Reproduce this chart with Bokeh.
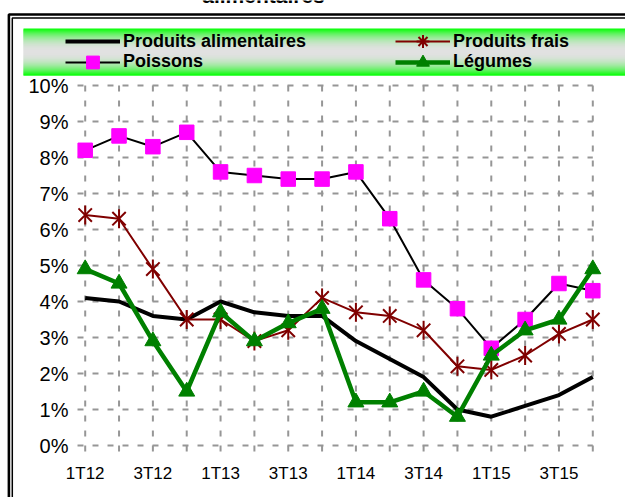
import numpy as np
from bokeh.plotting import figure
from bokeh.models import Range1d, BoxAnnotation, Legend, LegendItem
from bokeh.core.properties import value
from bokeh.embed import file_html
from bokeh.resources import INLINE

# ---------------- data ----------------
title_tail = "alimentaires"
quarters = ["1T12", "2T12", "3T12", "4T12", "1T13", "2T13", "3T13", "4T13",
            "1T14", "2T14", "3T14", "4T14", "1T15", "2T15", "3T15", "4T15"]
produits_alimentaires = [4.1, 4.0, 3.6, 3.5, 4.0, 3.7, 3.6, 3.6, 2.9, 2.4, 1.9, 1.0, 0.8, 1.1, 1.4, 1.9]
produits_frais = [6.4, 6.3, 4.9, 3.5, 3.5, 2.9, 3.2, 4.1, 3.7, 3.6, 3.2, 2.2, 2.1, 2.5, 3.1, 3.5]
poissons = [8.2, 8.6, 8.3, 8.7, 7.6, 7.5, 7.4, 7.4, 7.6, 6.3, 4.6, 3.8, 2.7, 3.5, 4.5, 4.3]
legumes = [4.9, 4.5, 2.9, 1.5, 3.7, 2.9, 3.4, 3.8, 1.2, 1.2, 1.5, 0.8, 2.5, 3.2, 3.5, 4.9]
y_ticks = list(range(0, 11))
y_tick_labels = [f"{v}%" for v in y_ticks]
x_tick_positions = list(range(0, len(quarters), 2))
x_tick_labels = [quarters[i] for i in x_tick_positions]

x = list(range(len(quarters)))

# ---------------- geometry (pixel <-> data) ----------------
W, H = 625, 497
X0_PX, X_STEP = 84.7, 33.84      # pixel of first category, pixels per category
Y0_PX, Y_STEP = 445.0, 36.0      # pixel of 0 %, pixels per 1 %

def dx(px):
    return (px - X0_PX) / X_STEP

def dy(py):
    return (Y0_PX - py) / Y_STEP

p = figure(width=W, height=H, output_backend="svg", toolbar_location=None,
           x_range=Range1d(dx(0), dx(W)), y_range=Range1d(dy(H), dy(0)),
           x_axis_location=None, y_axis_location=None,
           min_border=0, min_border_left=0, min_border_right=0,
           min_border_top=0, min_border_bottom=0)
p.outline_line_color = None
p.background_fill_color = "white"
p.border_fill_color = "white"
p.xgrid.grid_line_color = None
p.ygrid.grid_line_color = None

FONT = "Liberation Sans"

# ---------------- title remnant (cut by the top edge) ----------------
p.text(x=[dx(263)], y=[dy(-5)], text=[title_tail], text_align="center",
       text_baseline="alphabetic", text_font=value(FONT), text_font_style="bold",
       text_font_size="21px", text_color="black")

# ---------------- legend band (gradient) ----------------
band_top, band_bot = 28, 75
n = band_bot - band_top
g_edge = np.array([0, 255, 0], dtype=float)
g_mid = np.array([225, 225, 225], dtype=float)
for i in range(n):
    d = abs((i + 0.5) - n / 2) / (n / 2)
    t = d ** 2.2
    c = g_edge * t + g_mid * (1 - t)
    col = "#%02x%02x%02x" % tuple(int(round(v)) for v in c)
    py0 = band_top + i
    py1 = min(py0 + 2, band_bot)
    p.add_layout(BoxAnnotation(left=dx(23), right=dx(W + 20), top=dy(py0), bottom=dy(py1),
                               fill_color=col, fill_alpha=1, line_color=None))

# ---------------- double chart border ----------------
p.add_layout(BoxAnnotation(left=dx(8.4), right=dx(W + 30), top=dy(14), bottom=dy(H + 30),
                           fill_alpha=0, line_color="black", line_width=2.6, line_alpha=1))
p.add_layout(BoxAnnotation(left=dx(11.8), right=dx(W + 30), top=dy(17.5), bottom=dy(H + 30),
                           fill_alpha=0, line_color="black", line_width=1.5, line_alpha=1))

# ---------------- dashed gridlines (with cross-tick extensions) ----------------
grid_col = "#969696"
gx_start, gx_end = dx(77), x[-1]
gy_start, gy_end = dy(452), y_ticks[-1]
p.segment(x0=[gx_start] * len(y_ticks), y0=y_ticks, x1=[gx_end] * len(y_ticks), y1=y_ticks,
          line_color=grid_col, line_width=2, line_dash="6 9")
p.segment(x0=x, y0=[gy_end] * len(x), x1=x, y1=[gy_start] * len(x),
          line_color=grid_col, line_width=2, line_dash="6 9")

# ---------------- tick labels ----------------
p.text(x=[dx(68)] * len(y_ticks), y=y_ticks, text=y_tick_labels, text_align="right",
       text_baseline="middle", text_font=value(FONT), text_font_size="20px", text_color="black")
p.text(x=x_tick_positions, y=[dy(472.5)] * len(x_tick_positions), text=x_tick_labels,
       text_align="center", text_baseline="middle", text_font=value(FONT),
       text_font_size="17px", text_color="black")

# ---------------- series ----------------
r_alim = p.line(x, produits_alimentaires, line_color="black", line_width=4)

red = "#800000"
r_frais_l = p.line(x, produits_frais, line_color=red, line_width=2)
p.scatter(x, produits_frais, marker="x", size=19, line_color=red, line_width=2)
p.scatter(x, produits_frais, marker="dash", angle=np.pi / 2, size=19, line_color=red, line_width=2)
# legend-only sample of the star marker (NaN point: never drawn in the chart)
r_frais_proxy = p.scatter(x=[np.nan], y=[np.nan], marker="asterisk", size=19,
                          line_color=red, line_width=2)

r_poi_l = p.line(x, poissons, line_color="black", line_width=2)
r_poi_m = p.scatter(x, poissons, marker="square", size=14.5, fill_color="#FF00FF", line_color="#FF00FF")

green = "#008000"
r_leg_l = p.line(x, legumes, line_color=green, line_width=4.5)
r_leg_m = p.scatter(x, legumes, marker="triangle", size=16, fill_color=green, line_color=green)

# ---------------- legends (one per entry, screen units from frame bottom-left) ----------------
def add_legend(label, renderers, gx, cy):
    gh = 32
    lg = Legend(items=[LegendItem(label=label, renderers=renderers, index=0)],
                location=(gx, H - (cy + gh / 2)),
                glyph_width=55, glyph_height=gh, label_height=gh, label_standoff=3,
                padding=0, margin=0, spacing=0,
                border_line_color=None, background_fill_alpha=0,
                label_text_font=FONT, label_text_font_style="bold",
                label_text_font_size="18px", label_text_color="black")
    p.add_layout(lg)

add_legend("Produits alimentaires", [r_alim], 65, 41)
add_legend("Poissons", [r_poi_l, r_poi_m], 65, 61.5)
add_legend("Produits frais", [r_frais_l, r_frais_proxy], 395, 41)
add_legend("Légumes", [r_leg_l, r_leg_m], 395, 61.5)

open("out.html", "w").write(file_html(p, INLINE))
